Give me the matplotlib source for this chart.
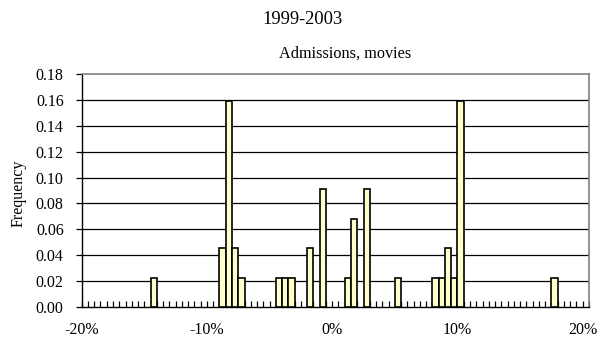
import matplotlib
matplotlib.use("Agg")
import matplotlib.pyplot as plt
from matplotlib.ticker import MultipleLocator, FixedLocator

# Histogram bins (left edge, percent) with nonzero frequency
bin_lefts = [-14.5, -9.0, -8.5, -8.0, -7.5, -4.5, -4.0, -3.5, -2.0, -1.0,
             1.0, 1.5, 2.5, 5.0, 8.0, 8.5, 9.0, 9.5, 10.0, 17.5]
freq = [0.0227, 0.0455, 0.1591, 0.0455, 0.0227, 0.0227, 0.0227, 0.0227, 0.0455, 0.0909,
        0.0227, 0.0682, 0.0909, 0.0227, 0.0227, 0.0227, 0.0455, 0.0227, 0.1591, 0.0227]
bin_width = 0.5
x_tick_vals = [-20, -10, 0, 10, 20]
x_tick_labels = ["-20%", "-10%", "0%", "10%", "20%"]
y_ticks = [0.00, 0.02, 0.04, 0.06, 0.08, 0.10, 0.12, 0.14, 0.16, 0.18]

plt.rcParams['font.family'] = ['Liberation Serif', 'DejaVu Serif']

fig = plt.figure(figsize=(6.07, 3.43), dpi=100)
ax = fig.add_axes([81.7/607, 1-307/343, (589-81.7)/607, (307-74)/343])

ax.bar(bin_lefts, freq, width=bin_width, align='edge', color='#FFFFCC',
       edgecolor='black', linewidth=1.2, zorder=3)

ax.set_xlim(-20, 20.5)
ax.set_ylim(0, 0.18)

for y in y_ticks[1:-1]:
    ax.axhline(y, color='black', linewidth=0.9, zorder=1)

ax.set_yticks(y_ticks)
ax.set_yticklabels([f"{v:.2f}" for v in y_ticks], fontsize=11.5)
ax.tick_params(axis='y', direction='out', length=4, width=0.9, pad=9, color='black')

ax.xaxis.remove_overlapping_locs = False
ax.xaxis.set_major_locator(FixedLocator(x_tick_vals))
ax.set_xticklabels(x_tick_labels, fontsize=11.5)
ax.xaxis.set_minor_locator(MultipleLocator(bin_width))
ax.tick_params(axis='x', which='major', length=0, pad=11)
ax.tick_params(axis='x', which='minor', direction='in', length=4, width=0.9, color='black')

ax.spines['left'].set_color('black')
ax.spines['bottom'].set_color('black')
ax.spines['left'].set_linewidth(1.0)
ax.spines['bottom'].set_linewidth(1.0)
ax.spines['top'].set_color('#808080')
ax.spines['right'].set_color('#808080')
ax.spines['top'].set_linewidth(1.2)
ax.spines['right'].set_linewidth(1.2)

ax.set_ylabel("Frequency", fontsize=11.5)
ax.yaxis.set_label_coords(-0.108, 0.49)

fig.text(302/607, 1-20/343, "1999-2003", ha='center', va='center', fontsize=13.3)
fig.text(345/607, 1-54/343, "Admissions, movies", ha='center', va='center', fontsize=11.7)

fig.savefig("out.png", dpi=100)
